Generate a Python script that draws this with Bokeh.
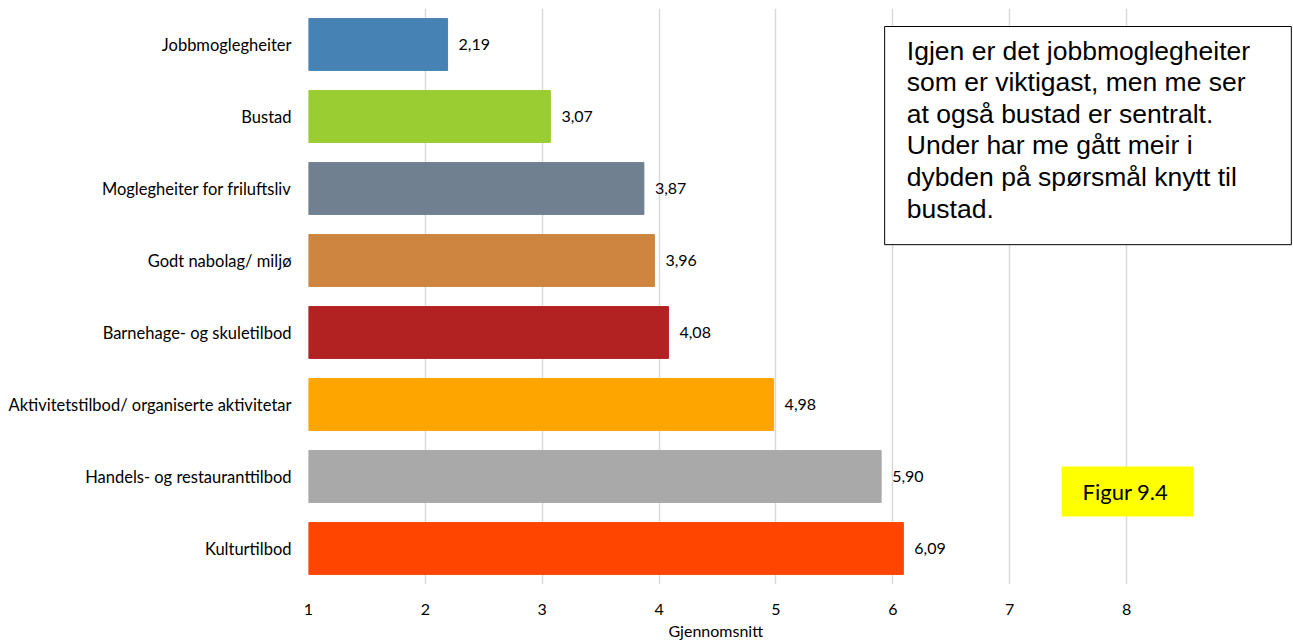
from bokeh.plotting import figure
from bokeh.models import FixedTicker, Label, BoxAnnotation, ColumnDataSource, Title
from bokeh.core.properties import value
from bokeh.embed import file_html
from bokeh.resources import INLINE

categories = ["Jobbmoglegheiter", "Bustad", "Moglegheiter for friluftsliv",
              "Godt nabolag/ miljø", "Barnehage- og skuletilbod",
              "Aktivitetstilbod/ organiserte aktivitetar",
              "Handels- og restauranttilbod", "Kulturtilbod"]
values = [2.19, 3.07, 3.87, 3.96, 4.08, 4.98, 5.90, 6.09]
colors = ["#4682B4", "#9ACD32", "#708090", "#CD853F", "#B22222",
          "#FFA500", "#A9A9A9", "#FF4500"]
x_ticks = [1, 2, 3, 4, 5, 6, 7, 8]
x_title = "Gjennomsnitt"
note_lines = ["Igjen er det jobbmoglegheiter", "som er viktigast, men me ser",
              "at også bustad er sentralt.", "Under har me gått meir i",
              "dybden på spørsmål knytt til", "bustad."]
fig_label = "Figur 9.4"

FONT = "Lato"

labels = [f"{v:.2f}".replace(".", ",") for v in values]
src = ColumnDataSource(dict(cat=categories, val=values, col=colors, lab=labels,
                            base=[1] * len(values)))

p = figure(y_range=list(reversed(categories)), x_range=(1, 9.42),
           width=1293, height=644, frame_width=984, frame_height=576,
           min_border_left=308, min_border_right=1, min_border_top=8,
           min_border_bottom=60, output_backend="svg", toolbar_location=None)
p.outline_line_color = None
p.background_fill_color = "white"

p.hbar(y="cat", left="base", right="val", height=0.72, color="col", source=src)
p.text(x="val", y="cat", text="lab", source=src, x_offset=11,
       text_baseline="middle", text_align="left", text_font=value(FONT),
       text_font_size="16px", text_color="black")

# axes
p.xaxis.ticker = FixedTicker(ticks=x_ticks)
p.xaxis.axis_line_color = None
p.xaxis.major_tick_line_color = None
p.xaxis.minor_tick_line_color = None
p.xaxis.major_label_text_font = FONT
p.xaxis.major_label_text_font_size = "16px"
p.xaxis.major_label_text_color = "black"
p.xaxis.major_label_standoff = 13

p.yaxis.axis_line_color = None
p.yaxis.major_tick_line_color = None
p.yaxis.minor_tick_line_color = None
p.yaxis.major_label_text_font = FONT
p.yaxis.major_label_text_font_size = "16.5px"
p.yaxis.major_label_text_color = "black"
p.yaxis.major_label_standoff = 11

p.xgrid.grid_line_color = "#d9d9d9"
p.xgrid.grid_line_width = 1.5
p.ygrid.grid_line_color = None

# axis title centered under 1..8
p.add_layout(Title(text=x_title, align="left", offset=360, standoff=3,
                   text_font=FONT, text_font_size="16px",
                   text_font_style="normal", text_color="black"), "below")

# note box
p.add_layout(BoxAnnotation(left=5.93, right=9.41, top=7.75, bottom=4.72,
                           fill_color="white", fill_alpha=1.0,
                           line_color="black", line_width=1, line_alpha=1.0))
for i, line in enumerate(note_lines):
    py = 50 + 31.6 * i
    p.add_layout(Label(x=6.12, y=8 - (py - 8) / 72, text=line,
                       text_font="Liberation Sans", text_font_size="26.5px",
                       text_align="left", text_baseline="alphabetic",
                       text_color="black"))

# figure label
p.add_layout(BoxAnnotation(left=7.444, right=8.573, top=1.639, bottom=0.944,
                           fill_color="#FFFF00", fill_alpha=1.0,
                           line_color=None))
p.add_layout(Label(x=7.99, y=1.292, text=fig_label, text_font=FONT,
                   text_font_size="22px", text_align="center",
                   text_baseline="middle", text_color="black"))

open("out.html", "w").write(file_html(p, INLINE))
